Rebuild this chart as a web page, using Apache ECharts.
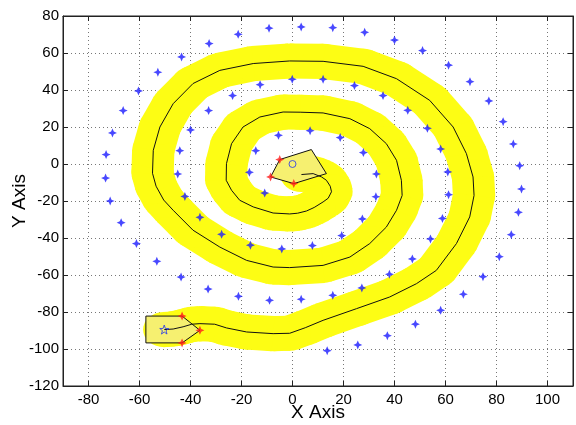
<!DOCTYPE html>
<html><head><meta charset="utf-8">
<script src="https://cdn.jsdelivr.net/npm/echarts@6/dist/echarts.min.js"></script>
<style>html,body{margin:0;padding:0;background:#fff}#c{width:576px;height:425px}</style>
</head><body><div id="c"></div>
<script>
// ---- data ----
const xTicks = [-80,-60,-40,-20,0,20,40,60,80,100];
const yTicks = [-120,-100,-80,-60,-40,-20,0,20,40,60,80];

// robot path (black line)
const pathX = [3.5,8.1,11.4,13.3,14.8,15.3,14.0,12.0,8.5,5.5,2.0,-1.1,-7.6,-15.4,-20.7,-23.9,-26.0,-25.9,-23.9,-19.4,-12.8,-3.7,3.0,12.0,22.5,30.3,36.8,40.8,42.7,43.0,40.8,36.8,30.3,22.5,12.0,-1.1,-7.6,-18.0,-28.5,-39.0,-46.8,-50.5,-53.5,-54.9,-54.6,-52.0,-46.8,-39.0,-28.5,-15.4,-1.1,12.0,27.7,40.8,53.8,63.0,68.2,70.8,71.2,69.5,64.3,56.4,48.6,38.1,25.1,12.0,5.0,-1.1,-7.6,-18.0,-25.9,-30.5,-36.3,-39.5,-42.9,-46.8,-50.3];
const pathY = [-5.7,-5.2,-7.0,-8.8,-12.0,-15.0,-18.5,-20.5,-23.5,-25.4,-26.6,-27.0,-26.5,-23.2,-19.6,-14.2,-8.8,0.2,11.0,20.0,25.4,28.1,28.0,27.6,24.5,19.1,11.0,2.0,-8.8,-17.0,-25.0,-34.1,-43.0,-50.3,-54.8,-56.0,-55.7,-52.1,-44.9,-35.8,-25.0,-19.5,-12.0,-5.0,7.4,20.0,32.6,43.5,50.6,54.3,55.7,55.5,52.8,46.1,34.4,20.0,5.6,-7.0,-17.0,-28.6,-43.0,-57.5,-64.7,-71.9,-78.2,-84.5,-88.5,-91.5,-91.7,-90.8,-88.6,-86.6,-86.3,-86.6,-88.0,-89.2,-89.5];

// obstacles / waypoints (blue stars)
const starX = [-9.2,-21.3,-32.7,-43.5,-52.8,-60.4,-66.4,-70.6,-73.1,-73.3,-71.5,-67.2,-61.2,-53.2,-43.7,-33.1,-21.2,-9.0,3.4,15.8,27.2,38.0,47.0,54.1,58.8,61.2,60.9,58.1,52.9,45.2,35.5,24.3,12.0,-0.1,-12.7,-23.5,-32.9,-40.0,-44.2,-45.0,-42.2,-36.3,-27.8,-16.5,-4.2,7.8,19.3,27.4,32.7,32.9,27.8,18.7,6.9,-5.5,-14.4,-16.9,-10.9,
  3.4,15.8,28.3,40.0,51.0,61.2,69.6,77.0,82.6,86.6,89.1,89.8,88.6,85.8,81.1,74.7,67.0,58.1,48.2,37.2,25.6,13.6];
const starY = [73.4,70.1,65.1,57.9,49.6,39.5,28.9,16.8,5.1,-7.6,-20.0,-31.7,-43.0,-52.6,-61.1,-67.6,-71.5,-73.7,-73.1,-71.0,-67.0,-59.6,-51.3,-40.5,-29.4,-16.6,-4.3,8.1,19.3,29.0,37.0,42.4,45.8,45.8,42.9,37.0,28.9,18.4,7.2,-5.4,-17.5,-28.8,-38.0,-43.9,-45.9,-44.1,-38.7,-29.7,-17.7,-5.4,6.2,14.3,18.0,15.5,7.2,-4.5,-15.7,
  74.1,73.7,71.2,67.0,61.3,53.4,44.5,34.1,22.9,10.8,-0.9,-13.5,-26.1,-38.2,-50.1,-60.9,-70.4,-79.1,-86.6,-92.8,-97.8,-100.9];

// start and goal footprints
const startPolyX = [-5.0,7.4,13.3,0.5,-8.6];
const startPolyY = [2.4,7.8,-5.2,-10.6,-7.0];
const endPolyX = [-57.5,-43.3,-36.3,-43.3,-57.5];
const endPolyY = [-82.2,-82.2,-89.9,-96.7,-96.7];
const redX = [-5.0,-8.6,0.5,-43.3,-36.3,-43.3];
const redY = [2.4,-7.0,-10.6,-82.2,-89.9,-96.7];
const startPoint = [0,0];
const goalPoint = [-50.3,-89.5];

// ---- chart ----
const BAND_R = [8.3, 9.5];
const BAND_COLOR = '#fdfd14';
const FONT = 'Liberation Sans, Arial, sans-serif';
const pathData = pathX.map((x,i)=>[x,pathY[i]]);
const starData = starX.map((x,i)=>[x,starY[i]]);
const redData = redX.map((x,i)=>[x,redY[i]]);
const starSym = 'path://M0,-10L3,-3L10,0L3,3L0,10L-3,3L-10,0L-3,-3Z';
const pentaSym = 'path://M0,-10L2.35,-3.24L9.51,-3.09L3.8,1.24L5.88,8.09L0,4L-5.88,8.09L-3.8,1.24L-9.51,-3.09L-2.35,-3.24Z';

function bandItem(params, api){
  const i = params.dataIndex;
  const p = api.coord([api.value(0), api.value(1)]);
  const sz = api.size([BAND_R[0], BAND_R[1]]);
  const rx = sz[0], ry = sz[1];
  const ch = [];
  const ell = [];
  for (let k=0;k<32;k++){const a=k/32*2*Math.PI; ell.push([p[0]+rx*Math.cos(a), p[1]+ry*Math.sin(a)]);}
  ch.push({type:'polygon', shape:{points:ell}, style:{fill:BAND_COLOR}});
  if (i < pathX.length-1){
    const q = api.coord([pathX[i+1], pathY[i+1]]);
    const ux=(q[0]-p[0])/rx, uy=(q[1]-p[1])/ry, L=Math.hypot(ux,uy)||1;
    const nx=-uy/L*rx, ny=ux/L*ry;
    ch.push({type:'polygon', shape:{points:[[p[0]+nx,p[1]+ny],[q[0]+nx,q[1]+ny],[q[0]-nx,q[1]-ny],[p[0]-nx,p[1]-ny]]}, style:{fill:BAND_COLOR}});
  }
  return {type:'group', children:ch};
}
function polyItem(params, api){
  const mk = (xs,ys)=>xs.map((x,i)=>api.coord([x,ys[i]]));
  return {type:'group', children:[
    {type:'polygon', shape:{points:mk(startPolyX,startPolyY)}, style:{fill:'#f6f070', stroke:'#111', lineWidth:1}},
    {type:'polygon', shape:{points:mk(endPolyX,endPolyY)}, style:{fill:'#f6f070', stroke:'#111', lineWidth:1}}
  ]};
}

const chart = echarts.init(document.getElementById('c'), null, {renderer:'canvas'});
const axisLineStyle = {color:'#222', width:1};
chart.setOption({
  animation:false,
  backgroundColor:'#fff',
  grid:{left:63, right:3, top:16, bottom:39, show:true, borderColor:'#222', borderWidth:1, containLabel:false, outerBoundsMode:'none'},
  xAxis:[{
    type:'value', min:-90, max:110, position:'bottom',
    axisLine:{show:true, onZero:false, lineStyle:axisLineStyle},
    axisTick:{show:true, inside:true, length:5, customValues:xTicks, lineStyle:axisLineStyle},
    axisLabel:{customValues:xTicks, fontSize:15, color:'#000', fontFamily:FONT, margin:6},
    splitLine:{show:true, lineStyle:{type:[1,3], color:'#777', width:1}},
    name:'X Axis', nameLocation:'middle', nameGap:17, nameMoveOverlap:false,
    nameTextStyle:{fontSize:19, color:'#000', fontFamily:FONT, verticalAlign:'top'}
  },{
    type:'value', min:-90, max:110, position:'top',
    axisLine:{show:true, onZero:false, lineStyle:axisLineStyle},
    axisTick:{show:true, inside:true, length:5, customValues:xTicks, lineStyle:axisLineStyle},
    axisLabel:{show:false}, splitLine:{show:false}
  }],
  yAxis:[{
    type:'value', min:-120, max:80, interval:20, position:'left',
    axisLine:{show:true, onZero:false, lineStyle:axisLineStyle},
    axisTick:{show:true, inside:true, length:5, lineStyle:axisLineStyle},
    axisLabel:{fontSize:15, color:'#000', fontFamily:FONT, margin:4},
    splitLine:{show:true, lineStyle:{type:[1,3], color:'#777', width:1}},
    name:'Y Axis', nameLocation:'middle', nameGap:34, nameMoveOverlap:false,
    nameTextStyle:{fontSize:19, color:'#000', fontFamily:FONT}
  },{
    type:'value', min:-120, max:80, interval:20, position:'right',
    axisLine:{show:true, onZero:false, lineStyle:axisLineStyle},
    axisTick:{show:true, inside:true, length:5, lineStyle:axisLineStyle},
    axisLabel:{show:false}, splitLine:{show:false}
  }],
  series:[
    {type:'custom', name:'band', data:pathData, renderItem:bandItem, silent:true, z:1},
    {type:'custom', name:'footprints', data:[[0,0]], renderItem:polyItem, silent:true, z:3},
    {type:'line', name:'path', data:pathData, showSymbol:false, lineStyle:{color:'#111', width:1}, z:4, silent:true},
    {type:'scatter', name:'stars', data:starData, symbol:starSym, symbolSize:9, itemStyle:{color:'#1a1aff'}, z:5, silent:true},
    {type:'scatter', name:'vertices', data:redData, symbol:starSym, symbolSize:9, itemStyle:{color:'#ff1a1a'}, z:6, silent:true},
    {type:'scatter', name:'start', data:[startPoint], symbol:'circle', symbolSize:7, itemStyle:{color:'rgba(0,0,0,0)', borderColor:'#2233ee', borderWidth:1}, z:6, silent:true},
    {type:'scatter', name:'goal', data:[goalPoint], symbol:pentaSym, symbolSize:9, itemStyle:{color:'rgba(0,0,0,0)', borderColor:'#2233ee', borderWidth:1}, z:6, silent:true}
  ]
});
</script>
</body></html>
